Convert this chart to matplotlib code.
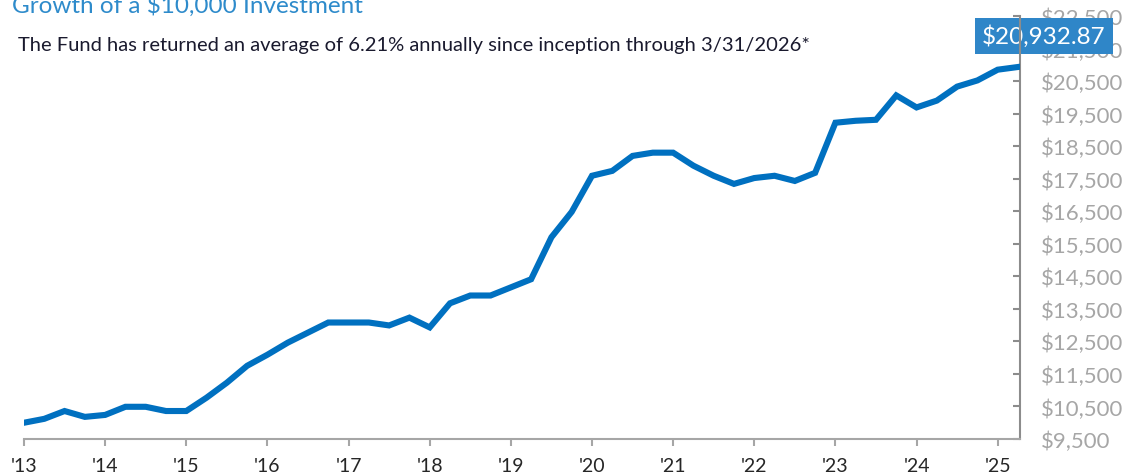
import matplotlib.pyplot as plt
from matplotlib.ticker import FuncFormatter

# quarterly values of a $10,000 investment, Q1 2013 .. Q2 2025
values = [10000, 10120, 10360, 10180, 10240, 10490, 10490, 10360, 10360, 10770,
          11230, 11750, 12090, 12460, 12770, 13080, 13080, 13080, 12990, 13230,
          12930, 13670, 13910, 13910, 14160, 14410, 15700, 16480, 17590, 17740,
          18200, 18300, 18300, 17900, 17590, 17340, 17520, 17590, 17430, 17680,
          19220, 19280, 19310, 20060, 19690, 19900, 20330, 20520, 20850, 20932.87]
year_labels = ["'13", "'14", "'15", "'16", "'17", "'18", "'19",
               "'20", "'21", "'22", "'23", "'24", "'25"]
y_ticks = list(range(9500, 22501, 1000))

title = 'Growth of a $10,000 Investment'
subtitle = 'The Fund has returned an average of 6.21% annually since inception through 3/31/2026*'

W, H = 1132, 477
fig = plt.figure(figsize=(W / 100, H / 100), dpi=100)
ax = fig.add_axes([24 / W, 1 - 440 / H, (1020 - 24) / W, (440 - 17) / H])

x = list(range(len(values)))
ax.plot(x, values, color='#0070C0', lw=4.4, solid_joinstyle='miter', zorder=3)

ax.set_xlim(0, len(values) - 1 + 0.1)
ax.set_ylim(9500, 22500)

for s in ['top', 'left']:
    ax.spines[s].set_visible(False)
ax.spines['right'].set_color('#8c8c8c')
ax.spines['right'].set_linewidth(1.5)
ax.spines['bottom'].set_color('#a6a6a6')
ax.spines['bottom'].set_linewidth(1.5)

ax.yaxis.tick_right()
ax.set_yticks(y_ticks)
ax.yaxis.set_major_formatter(FuncFormatter(lambda v, pos: '${:,.0f}'.format(v)))
ax.tick_params(axis='y', direction='in', length=5, width=1.5, color='#8c8c8c',
               labelcolor='#a6a6a6', labelsize=16, pad=15)

ax.set_xticks(range(0, len(values), 4))
ax.set_xticklabels(year_labels)
ax.tick_params(axis='x', direction='out', length=5, width=1.5, color='#a6a6a6',
               labelcolor='#262626', labelsize=14, pad=8)

for lab in ax.get_xticklabels() + ax.get_yticklabels():
    lab.set_family('Lato')

ax.annotate('${:,.2f}'.format(values[-1]), xy=(x[-1], values[-1]),
            xytext=(26, 31), textcoords='offset pixels', ha='center', va='center',
            color='white', fontsize=17.5, family='Lato', zorder=2, annotation_clip=False,
            bbox=dict(boxstyle='square,pad=0.28', fc='#2F86C8', ec='none'))

fig.text(12 / W, 1 - 13 / H, title, color='#2E8BCB', fontsize=17.5, family='Lato',
         va='baseline', ha='left')
fig.text(18 / W, 1 - 46 / H, subtitle, color='#1a1a2e', fontsize=14.5, family='Lato',
         va='center', ha='left')

fig.savefig('out.png', dpi=100)
